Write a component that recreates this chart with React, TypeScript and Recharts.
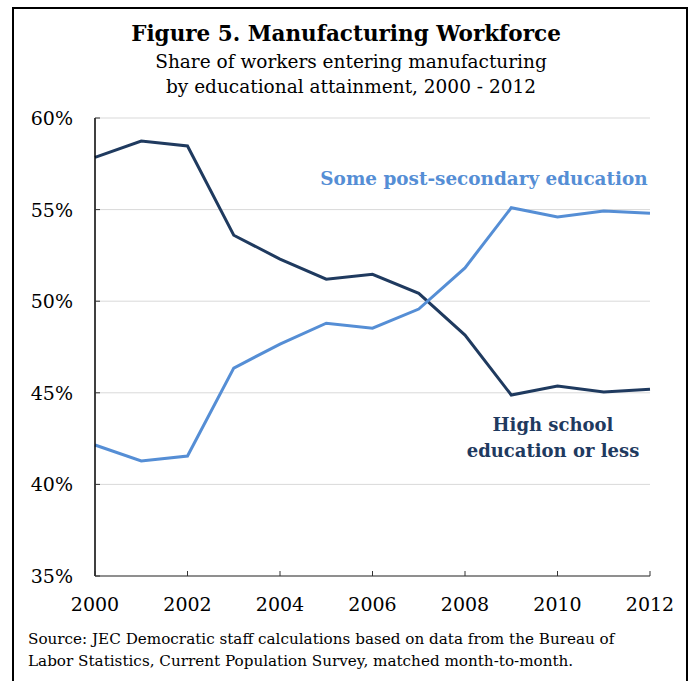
import React from "react";
import { LineChart, Line, XAxis, YAxis, CartesianGrid } from "recharts";

const years = [2000, 2001, 2002, 2003, 2004, 2005, 2006, 2007, 2008, 2009, 2010, 2011, 2012];
const highSchool = [57.85, 58.74, 58.47, 53.6, 52.3, 51.2, 51.47, 50.43, 48.15, 44.88, 45.37, 45.05, 45.2];
const postSecondary = [42.15, 41.28, 41.55, 46.35, 47.66, 48.8, 48.53, 49.57, 51.82, 55.1, 54.6, 54.92, 54.8];
const yTicks = [35, 40, 45, 50, 55, 60];
const xTicks = [2000, 2002, 2004, 2006, 2008, 2010, 2012];

const data = years.map((y, i) => ({ year: y, hs: highSchool[i], ps: postSecondary[i] }));

const FONT = "'DejaVu Serif', serif";
const DARK = "#1F3A5F";
const LIGHT = "#558ED5";

const YTick = (props: any) => {
  const { x, y, payload } = props;
  const axisX = x + 22;
  return (
    <g>
      <line x1={axisX} x2={axisX + 5} y1={y} y2={y} stroke="#333" strokeWidth={1} />
      <text x={x} y={y} dy={7} textAnchor="end" fontFamily={FONT} fontSize={19} fill="#000">
        {payload.value}%
      </text>
    </g>
  );
};

const XTick = (props: any) => {
  const { x, y, payload } = props;
  const axisY = y - 20;
  return (
    <g>
      <line x1={x} x2={x} y1={axisY} y2={axisY - 5} stroke="#333" strokeWidth={1} />
      <text x={x} y={axisY} dy={35} textAnchor="middle" fontFamily={FONT} fontSize={19} fill="#000">
        {payload.value}
      </text>
    </g>
  );
};

export default function App() {
  return (
    <div
      style={{
        position: "absolute",
        left: 0,
        top: 0,
        width: 688,
        height: 681,
        background: "#fff",
        overflow: "hidden",
        fontFamily: FONT,
      }}
    >
      <div
        style={{
          position: "absolute",
          left: 12,
          top: 7,
          width: 672,
          height: 700,
          borderLeft: "2px solid #000",
          borderTop: "2px solid #000",
          borderRight: "2px solid #000",
        }}
      />
      <div style={{ position: "absolute", left: 0, width: 692, top: 20, textAlign: "center", fontSize: 21.5, fontWeight: "bold", lineHeight: "28px" }}>
        Figure 5. Manufacturing Workforce
      </div>
      <div style={{ position: "absolute", left: 0, width: 702, top: 49, textAlign: "center", fontSize: 18.5, lineHeight: "25px" }}>
        Share of workers entering manufacturing
      </div>
      <div style={{ position: "absolute", left: 0, width: 702, top: 74, textAlign: "center", fontSize: 18.5, lineHeight: "25px" }}>
        by educational attainment, 2000 - 2012
      </div>

      <div style={{ position: "absolute", left: 0, top: 0 }}>
        <LineChart width={688} height={681} data={data} margin={{ top: 118, right: 38, bottom: 75, left: 35 }}>
          <CartesianGrid horizontal={true} vertical={false} stroke="#d9d9d9" strokeWidth={1} />
          <XAxis
            dataKey="year"
            type="number"
            domain={[2000, 2012]}
            ticks={xTicks}
            tick={<XTick />}
            tickLine={false}
            tickSize={0}
            tickMargin={20}
            axisLine={{ stroke: "#333", strokeWidth: 1 }}
            height={30}
            interval={0}
          />
          <YAxis
            type="number"
            domain={[35, 60]}
            ticks={yTicks}
            tick={<YTick />}
            tickLine={false}
            tickSize={0}
            tickMargin={22}
            axisLine={{ stroke: "#000", strokeWidth: 1.5 }}
            width={60}
            interval={0}
          />
          <Line dataKey="hs" stroke={DARK} strokeWidth={3} dot={false} isAnimationActive={false} />
          <Line dataKey="ps" stroke={LIGHT} strokeWidth={3} dot={false} isAnimationActive={false} />
        </LineChart>
      </div>

      <div style={{ position: "absolute", left: 284, width: 400, top: 166, textAlign: "center", fontSize: 18.4, fontWeight: "bold", color: LIGHT, lineHeight: "25px" }}>
        Some post-secondary education
      </div>
      <div style={{ position: "absolute", left: 453, width: 200, top: 412, textAlign: "center", fontSize: 18, fontWeight: "bold", color: DARK, lineHeight: "26px" }}>
        High school
        <br />
        education or less
      </div>

      <div style={{ position: "absolute", left: 28, top: 628, fontSize: 15.2, lineHeight: "22px", color: "#000", whiteSpace: "nowrap" }}>
        Source: JEC Democratic staff calculations based on data from the Bureau of
        <br />
        Labor Statistics, Current Population Survey, matched month-to-month.
      </div>
    </div>
  );
}
